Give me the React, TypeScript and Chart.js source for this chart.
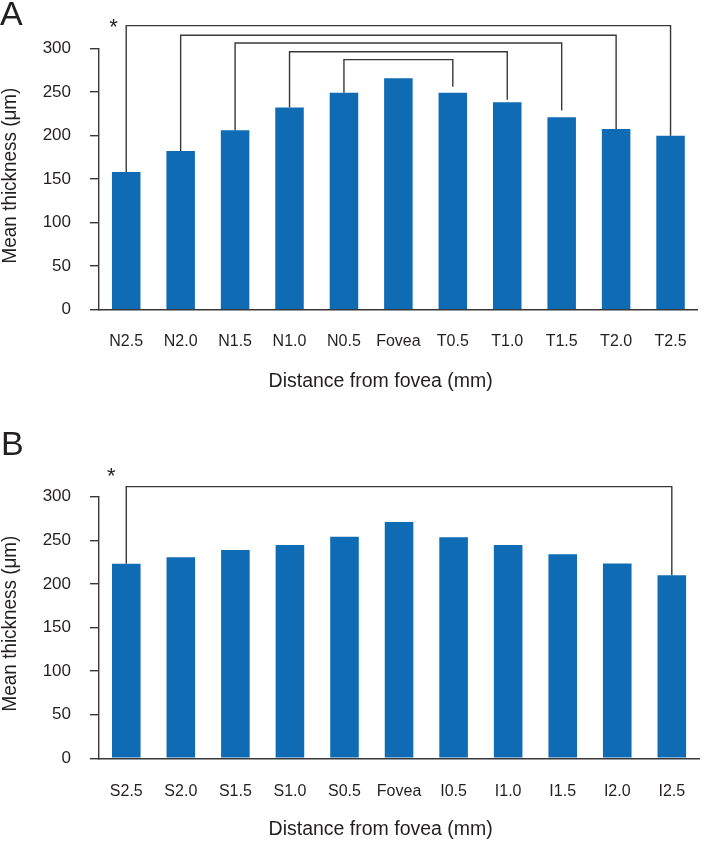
import { useEffect, useRef } from "react";
import { Chart, registerables } from "chart.js";

Chart.register(...registerables);

// ---------- data ----------
const categoriesA = ["N2.5", "N2.0", "N1.5", "N1.0", "N0.5", "Fovea", "T0.5", "T1.0", "T1.5", "T2.0", "T2.5"];
const valuesA = [158, 182, 206, 232, 249, 265.5, 249, 238, 221, 207.5, 199.5];

const categoriesB = ["S2.5", "S2.0", "S1.5", "S1.0", "S0.5", "Fovea", "I0.5", "I1.0", "I1.5", "I2.0", "I2.5"];
const valuesB = [223, 230.5, 239, 244.5, 254, 271, 253.5, 244.5, 234, 223.5, 210];

const yTickValues = [0, 50, 100, 150, 200, 250, 300];

const xTitle = "Distance from fovea (mm)";
const yTitle = "Mean thickness (μm)";

// significance brackets (category index pairs, bracket level and right-end heights in µm)
const bracketFromA = [0, 1, 2, 3, 4];
const bracketToA = [10, 9, 8, 7, 6];
const bracketLevelA = [326, 315, 306, 296, 287];
const bracketRightEndA = [199.5, 207.5, 228.5, 241, 256];

const bracketFromB = [0];
const bracketToB = [10];
const bracketLevelB = [311.5];
const bracketRightEndB = [210];

// ---------- styles ----------
const FONT = "'Liberation Sans', Arial, Helvetica, sans-serif";
const TEXT = "#231f20";
const LINE = "#383838";
const BAR = "#106bb5";

type PanelCfg = {
  letter: string;
  letterY: number;
  letterX: number;
  starDx: number;
  starY: number;
  from: number[];
  to: number[];
  level: number[];
  rightEnd: number[];
  values: number[];
  xTitleX: number;
  xTitleY: number;
  yTitleX: number;
  yTitleY: number;
};

function centeredText(
  ctx: CanvasRenderingContext2D,
  text: string,
  cx: number,
  cy: number,
  rotate: boolean,
  sx: number
) {
  ctx.save();
  ctx.textAlign = "center";
  ctx.textBaseline = "alphabetic";
  const m = ctx.measureText(text);
  const off = (m.actualBoundingBoxAscent - m.actualBoundingBoxDescent) / 2;
  ctx.translate(cx, cy);
  if (rotate) ctx.rotate(-Math.PI / 2);
  ctx.scale(sx, 1);
  ctx.fillText(text, 0, off);
  ctx.restore();
}

function makeAnnotPlugin(cfg: PanelCfg) {
  return {
    id: "annot" + cfg.letter,
    afterDraw(chart: any) {
      const ctx: CanvasRenderingContext2D = chart.ctx;
      const xs = chart.scales.x;
      const ys = chart.scales.y;
      ctx.save();
      ctx.strokeStyle = LINE;
      ctx.lineWidth = 1.4;
      ctx.lineJoin = "miter";
      cfg.from.forEach((f, i) => {
        const t = cfg.to[i];
        const xl = xs.getPixelForValue(f);
        const xr = xs.getPixelForValue(t);
        const yTop = ys.getPixelForValue(cfg.level[i]);
        const yl = ys.getPixelForValue(cfg.values[f]);
        const yr = ys.getPixelForValue(cfg.rightEnd[i]);
        ctx.beginPath();
        ctx.moveTo(xl, yl);
        ctx.lineTo(xl, yTop);
        ctx.lineTo(xr, yTop);
        ctx.lineTo(xr, yr);
        ctx.stroke();
      });
      ctx.fillStyle = TEXT;
      // asterisk
      ctx.font = `22px ${FONT}`;
      centeredText(ctx, "*", xs.getPixelForValue(cfg.from[0]) + cfg.starDx, cfg.starY, false, 1);
      // axis titles
      ctx.font = `19.5px ${FONT}`;
      centeredText(ctx, xTitle, cfg.xTitleX, cfg.xTitleY, false, 1);
      ctx.font = `21px ${FONT}`;
      centeredText(ctx, yTitle, cfg.yTitleX, cfg.yTitleY, true, 0.9);
      // panel letter
      ctx.font = `34px ${FONT}`;
      ctx.textAlign = "left";
      ctx.textBaseline = "alphabetic";
      ctx.fillText(cfg.letter, cfg.letterX, cfg.letterY);
      ctx.restore();
    },
  };
}

function makeConfig(labels: string[], values: number[], padTop: number, xHeight: number, xTickPad: number, plugin: any): any {
  return {
    type: "bar",
    data: {
      labels,
      datasets: [
        {
          data: values,
          backgroundColor: BAR,
          borderWidth: 0,
          categoryPercentage: 1,
          barPercentage: 0.524,
        },
      ],
    },
    options: {
      responsive: false,
      animation: false,
      devicePixelRatio: 1,
      layout: { padding: { top: padTop, right: 1, left: 0, bottom: 0 } },
      plugins: { legend: { display: false }, tooltip: { enabled: false }, title: { display: false } },
      scales: {
        x: {
          offset: true,
          grid: { display: false, drawTicks: false },
          border: { display: true, color: LINE, width: 1.4 },
          ticks: { color: TEXT, font: { family: FONT, size: 16 }, padding: xTickPad, autoSkip: false, maxRotation: 0 },
          title: { display: false },
          afterFit: (s: any) => {
            s.height = xHeight;
          },
        },
        y: {
          min: 0,
          max: 300,
          afterBuildTicks: (s: any) => {
            s.ticks = yTickValues.map((v) => ({ value: v }));
          },
          grid: {
            drawOnChartArea: false,
            drawTicks: true,
            tickLength: 9,
            color: LINE,
            tickColor: LINE,
            lineWidth: 1.4,
            tickWidth: 1.4,
          },
          border: { display: true, color: LINE, width: 1.4 },
          ticks: { color: TEXT, font: { family: FONT, size: 17 }, padding: 19 },
          title: { display: false },
          afterFit: (s: any) => {
            s.width = 99;
          },
        },
      },
    },
    plugins: [plugin],
  };
}

export default function App() {
  const refA = useRef<HTMLCanvasElement | null>(null);
  const refB = useRef<HTMLCanvasElement | null>(null);

  useEffect(() => {
    document.body.style.margin = "0";
    const pA = makeAnnotPlugin({
      letter: "A",
      letterX: 0,
      letterY: 25,
      starDx: -12.7,
      starY: 22.7,
      from: bracketFromA,
      to: bracketToA,
      level: bracketLevelA,
      rightEnd: bracketRightEndA,
      values: valuesA,
      xTitleX: 380.7,
      xTitleY: 381.7,
      yTitleX: 10.5,
      yTitleY: 175.5,
    });
    const pB = makeAnnotPlugin({
      letter: "B",
      letterX: 1,
      letterY: 35,
      starDx: -15,
      starY: 52.3,
      from: bracketFromB,
      to: bracketToB,
      level: bracketLevelB,
      rightEnd: bracketRightEndB,
      values: valuesB,
      xTitleX: 380.7,
      xTitleY: 409.3,
      yTitleX: 10.5,
      yTitleY: 203.5,
    });
    const chartA = new Chart(refA.current as HTMLCanvasElement, makeConfig(categoriesA, valuesA, 48.3, 110.3, 22.4, pA));
    const chartB = new Chart(refB.current as HTMLCanvasElement, makeConfig(categoriesB, valuesB, 76.7, 82.7, 23.8, pB));
    return () => {
      chartA.destroy();
      chartB.destroy();
    };
  }, []);

  return (
    <div style={{ position: "absolute", left: 0, top: 0, width: 709, height: 841, background: "#fff" }}>
      <canvas ref={refA} width={709} height={420} style={{ position: "absolute", left: 0, top: 0, display: "block" }} />
      <canvas ref={refB} width={709} height={421} style={{ position: "absolute", left: 0, top: 420, display: "block" }} />
    </div>
  );
}
